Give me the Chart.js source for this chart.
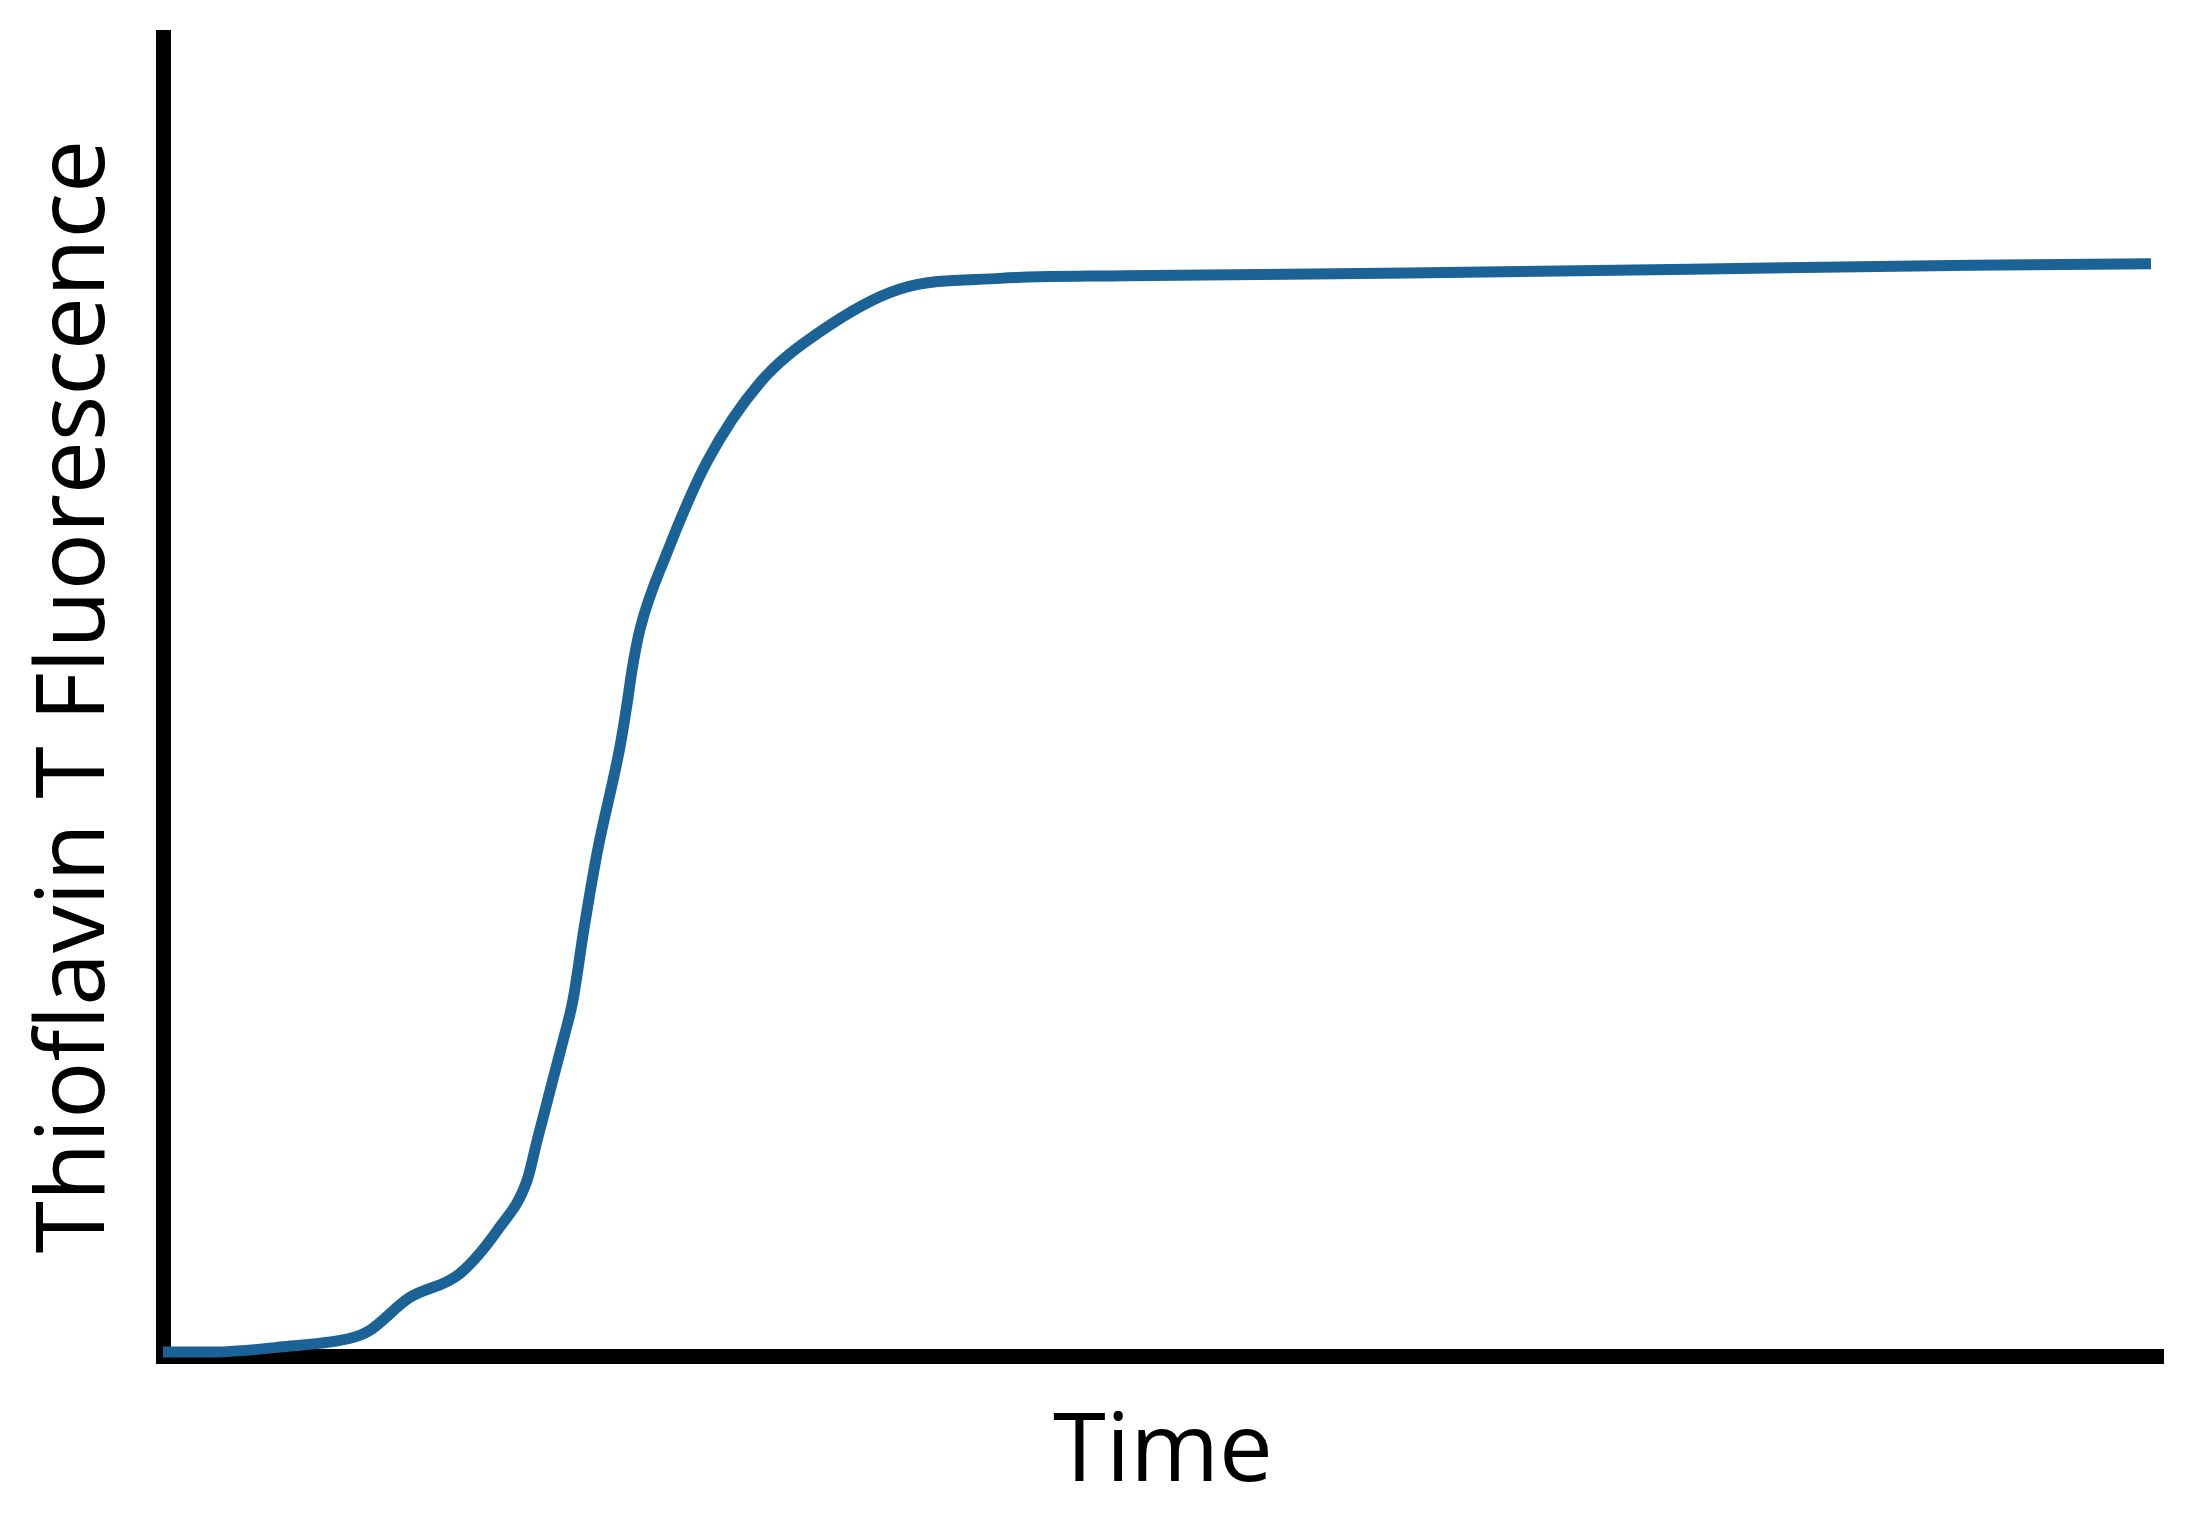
<!DOCTYPE html>
<html>
<head>
<meta charset="utf-8">
<title>Thioflavin T Fluorescence</title>
<script src="https://cdn.jsdelivr.net/npm/chart.js@4.4.1/dist/chart.umd.min.js"></script>
<style>
    body { margin: 0; background: #ffffff; }
    #chart { display: block; }
</style>
</head>
<body>
<canvas id="chart" width="2208" height="1517"></canvas>
<script>
// values (arbitrary units, 0-100 on both axes)
let timeValues = [0, 2.4, 6.0, 9.5, 10.3, 12.3, 14.8, 16.8, 18.2, 18.7, 19.4, 20.0, 20.5, 21.05, 21.7,
    22.85, 23.2, 23.45, 23.85, 25.2, 27.2, 29.85, 32.7, 36.85, 41.85, 48.15, 62.25, 76.35, 90.4, 99.4];
let fluorescenceValues = [0.3, 0.3, 0.7, 1.4, 1.9, 4.4, 6.2, 9.7, 13.3, 16.3, 20.4, 23.9, 27.0, 32.4, 38.1,
    46.2, 49.4, 52.0, 55.1, 60.9, 67.8, 73.8, 77.5, 80.9, 81.7, 81.9, 82.1, 82.4, 82.7, 82.8];
let xTitle = "Time";
let yTitle = "Thioflavin T Fluorescence";

let points = timeValues.map((t, i) => ({ x: t, y: fluorescenceValues[i] }));

let ctx = document.getElementById("chart").getContext("2d");

let myChart = new Chart(ctx, {
    type: "line",
    data: {
        datasets: [{
            label: yTitle,
            data: points,
            borderColor: "#1b6296",
            borderWidth: 11,
            borderCapStyle: "butt",
            pointRadius: 0,
            cubicInterpolationMode: "monotone",
            fill: false,
            clip: false
        }]
    },
    options: {
        responsive: false,
        devicePixelRatio: 1,
        animation: false,
        layout: { padding: { top: 37, right: 45, left: 0, bottom: 0 } },
        plugins: {
            legend: { display: false },
            tooltip: { enabled: false }
        },
        scales: {
            x: {
                type: "linear",
                min: 0,
                max: 100,
                ticks: { display: false },
                grid: { display: true, color: "transparent", drawTicks: false },
                border: { display: true, color: "#000000", width: 15 },
                title: {
                    display: true,
                    text: xTitle,
                    color: "#000000",
                    font: { family: "Open Sans", size: 96 },
                    padding: { top: 0, bottom: 6 }
                },
                afterFit: (scale) => { scale.height = 161; }
            },
            y: {
                min: 0,
                max: 100,
                ticks: { display: false },
                grid: { display: true, color: "transparent", drawTicks: false },
                border: { display: true, color: "#000000", width: 15 },
                title: {
                    display: true,
                    text: yTitle,
                    color: "#000000",
                    font: { family: "Open Sans", size: 95 },
                    padding: { top: 20, bottom: 0 }
                },
                afterFit: (scale) => { scale.width = 163; }
            }
        }
    }
});
</script>
</body>
</html>
